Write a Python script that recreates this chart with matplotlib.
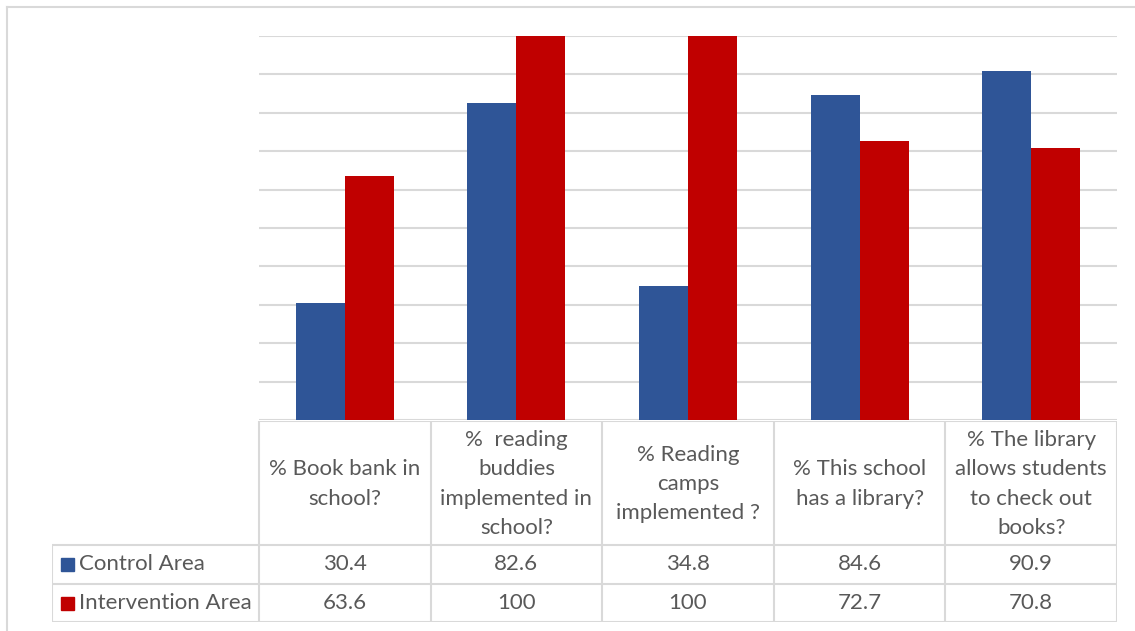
import numpy as np
import matplotlib.pyplot as plt
from matplotlib.patches import Rectangle
from matplotlib.lines import Line2D

categories = ["% Book bank in\nschool?",
              "%  reading\nbuddies\nimplemented in\nschool?",
              "% Reading\ncamps\nimplemented ?",
              "% This school\nhas a library?",
              "% The library\nallows students\nto check out\nbooks?"]
series_names = ["Control Area", "Intervention Area"]
control = [30.4, 82.6, 34.8, 84.6, 90.9]
intervention = [63.6, 100, 100, 72.7, 70.8]
control_txt = ["30.4", "82.6", "34.8", "84.6", "90.9"]
intervention_txt = ["63.6", "100", "100", "72.7", "70.8"]

BLUE = "#2F5597"
RED = "#C00000"
GRID = "#D9D9D9"
TXT = "#595959"
FONT = ["Lato", "DejaVu Sans"]
FS = 16

W, H = 1135, 631
fig = plt.figure(figsize=(W / 100, H / 100), dpi=100)

def fbox(x0, y0, x1, y1):
    # pixel box (top-left origin) -> figure fraction rect
    return [x0 / W, 1 - y1 / H, (x1 - x0) / W, (y1 - y0) / H]

# outer chart border
fig.add_artist(Line2D([6.5 / W, 6.5 / W], [0, 1 - 7 / H], transform=fig.transFigure, color=GRID, lw=1.5))
fig.add_artist(Line2D([6.5 / W, 1], [1 - 7 / H, 1 - 7 / H], transform=fig.transFigure, color=GRID, lw=1.5))

n = len(categories)
x = np.arange(n)
bw = 0.285

ax = fig.add_axes(fbox(259, 36, 1117, 420))
ax.bar(x - bw / 2, control, bw, color=BLUE, zorder=3)
ax.bar(x + bw / 2, intervention, bw, color=RED, zorder=3)
ax.set_xlim(-0.5, n - 0.5)
ax.set_ylim(0, 100)
ax.set_yticks(np.arange(0, 101, 10))
ax.grid(axis="y", color=GRID, lw=1.5, zorder=0)
ax.tick_params(left=False, bottom=False, labelleft=False, labelbottom=False)
for s in ax.spines.values():
    s.set_visible(False)

# data table
cat_w = (1117 - 259) / n
lab_w = (259 - 52) / cat_w
tax = fig.add_axes(fbox(52, 421, 1117, 622))
tax.set_xlim(-0.5 - lab_w, n - 0.5)
tax.set_ylim(622, 421)
tax.axis("off")
row_edges = [421, 545, 584, 622]
lkw = dict(color=GRID, lw=1.5, solid_capstyle="butt")
# header row
tax.plot([-0.5, n - 0.5], [row_edges[0]] * 2, **lkw)
for xi in np.arange(-0.5, n, 1.0):
    tax.plot([xi, xi], [row_edges[0], row_edges[-1]], **lkw)
for yi in row_edges[1:]:
    tax.plot([-0.5 - lab_w, n - 0.5], [yi, yi], **lkw)
tax.plot([-0.5 - lab_w] * 2, [row_edges[1], row_edges[-1]], **lkw)

for i, c in enumerate(categories):
    tax.text(i, (row_edges[0] + row_edges[1]) / 2 + 1, c, ha="center", va="center",
             fontsize=FS, color=TXT, family=FONT, linespacing=1.58)
for r, (name, col, vals) in enumerate(zip(series_names, [BLUE, RED], [control_txt, intervention_txt])):
    yc = (row_edges[r + 1] + row_edges[r + 2]) / 2
    x0 = -0.5 - lab_w
    tax.add_patch(Rectangle((x0 + 9 / cat_w, yc - 6.5), 13 / cat_w, 13, color=col, zorder=3))
    tax.text(x0 + 27 / cat_w, yc, name, ha="left", va="center", fontsize=FS, color=TXT, family=FONT)
    for i, v in enumerate(vals):
        tax.text(i, yc, v, ha="center", va="center", fontsize=FS, color=TXT, family=FONT)

fig.savefig("out.png", dpi=100)
